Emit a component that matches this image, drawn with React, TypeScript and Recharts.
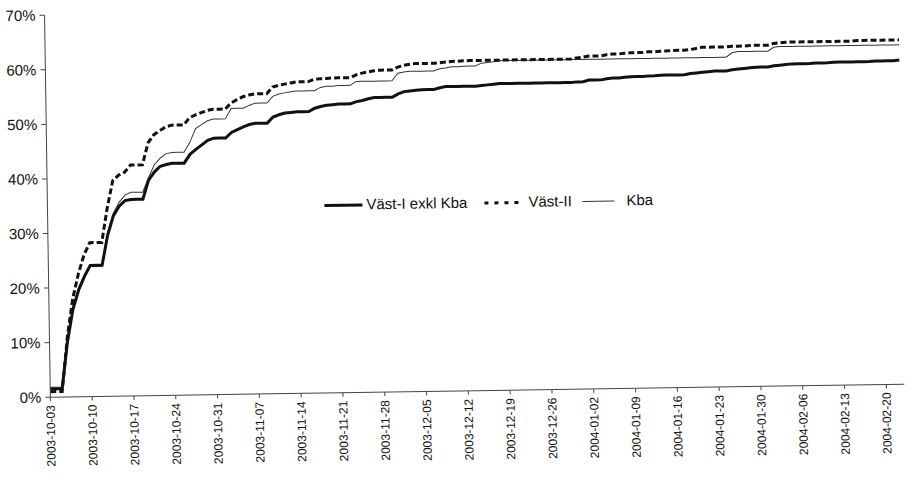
import React from 'react';
import { LineChart, Line, XAxis, YAxis, Legend } from 'recharts';

// one category per day, 2003-10-03 .. 2004-02-23
const FIRST_DAY = Date.UTC(2003, 9, 3);
const DAY_COUNT = 144;
const DATES = Array.from({ length: DAY_COUNT }, (_, i) =>
    new Date(FIRST_DAY + i * 86400000).toISOString().slice(0, 10)
);

const Y_TICKS = [0, 10, 20, 30, 40, 50, 60, 70];

// rows of seven days, Friday to Thursday
const VAST_I = [
    1.5, 1.5, 1.5, 10.0, 16.0, 19.5, 22.0,
    24.0, 24.0, 24.0, 29.5, 33.0, 34.8, 35.8,
    36.0, 36.0, 36.0, 39.5, 41.0, 42.0, 42.3,
    42.5, 42.5, 42.5, 44.1, 45.0, 45.8, 46.6,
    47.0, 47.0, 47.0, 48.0, 48.5, 49.0, 49.4,
    49.6, 49.6, 49.6, 50.7, 51.1, 51.4, 51.5,
    51.6, 51.6, 51.6, 52.2, 52.5, 52.7, 52.8,
    52.9, 52.9, 52.9, 53.3, 53.5, 53.8, 54.0,
    54.0, 54.0, 54.0, 54.6, 55.0, 55.1, 55.2,
    55.3, 55.3, 55.3, 55.6, 55.8, 55.8, 55.8,
    55.8, 55.8, 55.8, 55.9, 56.0, 56.1, 56.2,
    56.2, 56.2, 56.2, 56.2, 56.2, 56.2, 56.2,
    56.2, 56.2, 56.2, 56.2, 56.2, 56.3, 56.3,
    56.6, 56.6, 56.6, 56.8, 56.9, 56.9, 57.0,
    57.1, 57.1, 57.1, 57.2, 57.2, 57.3, 57.3,
    57.3, 57.3, 57.3, 57.5, 57.6, 57.7, 57.8,
    57.9, 57.9, 57.9, 58.1, 58.2, 58.3, 58.4,
    58.5, 58.5, 58.5, 58.7, 58.8, 58.9, 59.0,
    59.0, 59.0, 59.0, 59.1, 59.1, 59.1, 59.2,
    59.2, 59.2, 59.2, 59.2, 59.2, 59.2, 59.3,
    59.3, 59.3, 59.3, 59.4,
];

const VAST_II = [
    1.0, 1.0, 1.0, 11.0, 18.0, 22.5, 26.0,
    28.2, 28.2, 28.2, 34.5, 39.5, 40.5, 41.0,
    42.3, 42.3, 42.3, 46.3, 47.8, 48.5, 49.2,
    49.5, 49.5, 49.5, 50.8, 51.3, 51.7, 52.1,
    52.3, 52.3, 52.3, 53.4, 54.0, 54.5, 54.8,
    55.0, 55.0, 55.0, 56.2, 56.5, 56.7, 56.9,
    57.1, 57.1, 57.1, 57.5, 57.6, 57.6, 57.7,
    57.7, 57.7, 57.7, 58.2, 58.5, 58.7, 58.9,
    59.0, 59.0, 59.0, 59.5, 59.8, 60.0, 60.1,
    60.1, 60.1, 60.1, 60.2, 60.3, 60.4, 60.4,
    60.5, 60.5, 60.5, 60.5, 60.5, 60.5, 60.5,
    60.5, 60.5, 60.5, 60.5, 60.5, 60.5, 60.5,
    60.5, 60.5, 60.5, 60.5, 60.5, 60.7, 60.8,
    61.0, 61.0, 61.0, 61.2, 61.3, 61.3, 61.4,
    61.5, 61.5, 61.5, 61.6, 61.6, 61.7, 61.7,
    61.8, 61.8, 61.8, 61.9, 62.1, 62.3, 62.3,
    62.3, 62.3, 62.3, 62.4, 62.4, 62.4, 62.5,
    62.5, 62.5, 62.5, 62.8, 62.9, 63.0, 63.0,
    63.0, 63.0, 63.0, 63.0, 63.0, 63.0, 63.0,
    63.0, 63.0, 63.0, 63.1, 63.1, 63.1, 63.1,
    63.1, 63.1, 63.1, 63.1,
];

const KBA = [
    1.8, 1.8, 1.8, 10.5, 16.5, 20.0, 22.3,
    24.2, 24.2, 24.2, 30.0, 33.5, 35.5, 36.8,
    37.3, 37.3, 37.3, 40.0, 42.3, 43.5, 44.3,
    44.5, 44.5, 44.5, 46.3, 48.8, 49.5, 50.2,
    50.5, 50.5, 50.5, 52.4, 52.4, 52.4, 52.9,
    53.3, 53.3, 53.3, 54.5, 54.9, 55.1, 55.3,
    55.4, 55.4, 55.4, 55.4, 56.0, 56.2, 56.2,
    56.3, 56.3, 56.3, 57.0, 57.0, 57.0, 57.0,
    57.0, 57.0, 57.0, 58.4, 58.6, 58.7, 58.7,
    58.7, 58.7, 58.7, 59.1, 59.2, 59.4, 59.4,
    59.5, 59.5, 59.5, 60.0, 60.1, 60.2, 60.4,
    60.4, 60.4, 60.4, 60.4, 60.4, 60.4, 60.4,
    60.4, 60.4, 60.4, 60.4, 60.4, 60.4, 60.4,
    60.4, 60.4, 60.4, 60.4, 60.4, 60.4, 60.4,
    60.4, 60.4, 60.4, 60.4, 60.4, 60.4, 60.4,
    60.4, 60.4, 60.4, 60.4, 60.4, 60.4, 60.4,
    60.4, 60.4, 60.4, 61.2, 61.4, 61.4, 61.4,
    61.4, 61.4, 61.4, 62.1, 62.2, 62.2, 62.2,
    62.2, 62.2, 62.2, 62.2, 62.2, 62.2, 62.2,
    62.2, 62.2, 62.2, 62.2, 62.2, 62.2, 62.2,
    62.2, 62.2, 62.2, 62.2,
];

const data = DATES.map((date, i) => ({
    date,
    vastI: VAST_I[i],
    vastII: VAST_II[i],
    kba: KBA[i],
}));

const FONT = '"Liberation Sans", Arial, sans-serif';
const INK = '#111';

function DateTick({ x, y, payload }: any) {
    return (
        <text
            x={x}
            y={y}
            transform={`rotate(-90 ${x} ${y})`}
            textAnchor="end"
            dy="0.35em"
            fontSize={12}
            fontFamily={FONT}
            fill={INK}
        >
            {payload.value}
        </text>
    );
}

function ChartLegend() {
    const text = { fontSize: 15, fontFamily: FONT, fill: INK };
    return (
        <svg width={345} height={24} style={{ display: 'block' }}>
            <line x1={5} x2={43} y1={12.5} y2={12.5} stroke={INK} strokeWidth={3} />
            <text x={47} y={17} {...text}>Väst-I exkl Kba</text>
            <line x1={165} x2={202} y1={12.5} y2={12.5} stroke={INK} strokeWidth={3} strokeDasharray="4 6" />
            <text x={209} y={17} {...text}>Väst-II</text>
            <line x1={263} x2={295} y1={12.5} y2={12.5} stroke="#333" strokeWidth={1} />
            <text x={307} y={17} {...text}>Kba</text>
        </svg>
    );
}

export default function App() {
    return (
        <div
            style={{
                position: 'absolute',
                left: 0,
                top: 0,
                width: 908,
                height: 480,
                background: '#fff',
                transform: 'rotate(-0.87deg)',
                transformOrigin: 'center',
            }}
        >
            <LineChart width={908} height={480} data={data} margin={{ top: 9, right: 6, bottom: 9, left: 0 }}>
                <XAxis
                    dataKey="date"
                    interval={6}
                    height={80}
                    tickSize={4}
                    tickMargin={4}
                    tick={<DateTick />}
                    axisLine={{ stroke: '#444' }}
                    tickLine={{ stroke: '#444' }}
                />
                <YAxis
                    domain={[0, 70]}
                    ticks={Y_TICKS}
                    width={48}
                    tickSize={5}
                    tickMargin={4}
                    tickFormatter={(v) => `${v}%`}
                    tick={{ fontSize: 15, fontFamily: FONT, fill: INK }}
                    axisLine={{ stroke: '#444' }}
                    tickLine={{ stroke: '#444' }}
                />
                <Legend
                    layout="horizontal"
                    align="center"
                    verticalAlign="middle"
                    content={() => <ChartLegend />}
                    wrapperStyle={{ left: 320, top: 191, width: 345, height: 24 }}
                />
                <Line type="linear" dataKey="kba" stroke="#333" strokeWidth={1} dot={false} isAnimationActive={false} />
                <Line type="linear" dataKey="vastI" stroke={INK} strokeWidth={3} dot={false} isAnimationActive={false} />
                <Line type="linear" dataKey="vastII" stroke={INK} strokeWidth={3} strokeDasharray="6 3" dot={false} isAnimationActive={false} />
            </LineChart>
        </div>
    );
}
